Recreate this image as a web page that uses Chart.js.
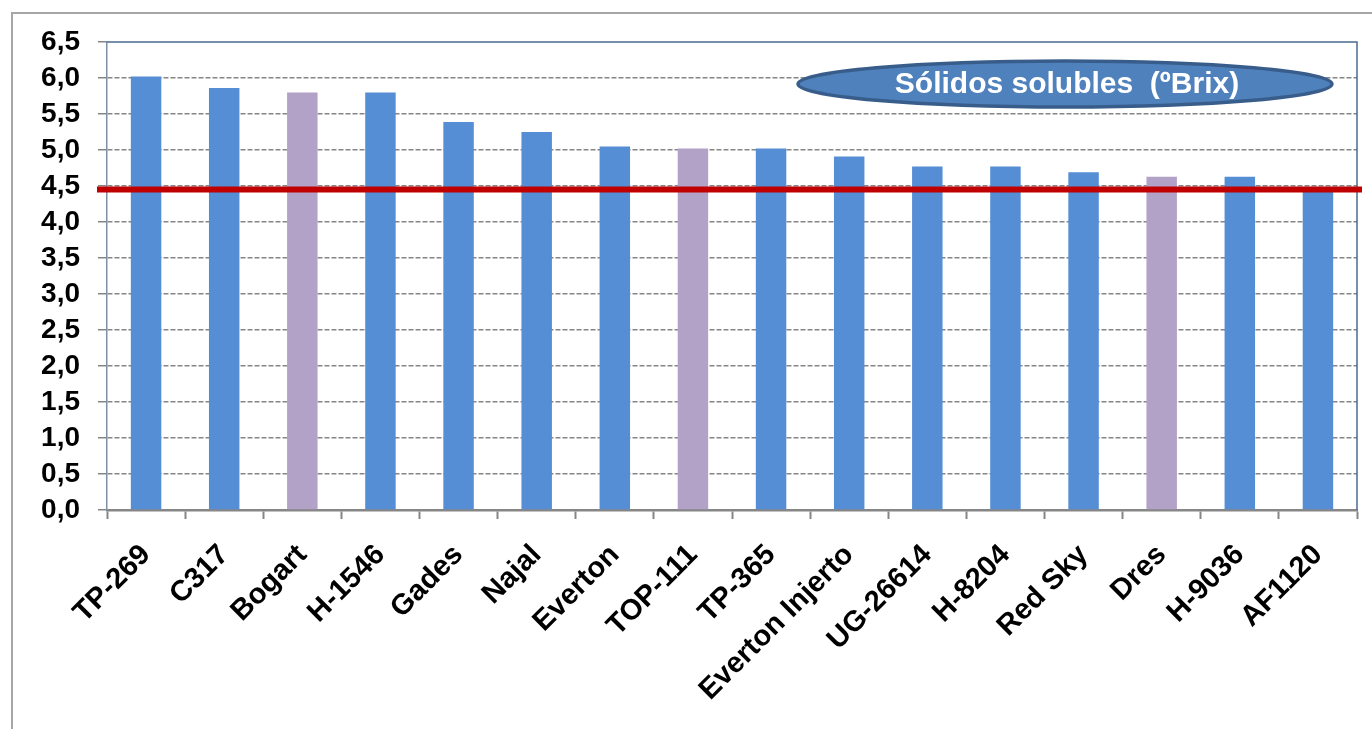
<!DOCTYPE html>
<html>
<head>
<meta charset="utf-8">
<script src="https://cdn.jsdelivr.net/npm/chart.js@4/dist/chart.umd.min.js"></script>
<style>
  html, body { margin: 0; padding: 0; background: #fff; }
  #wrap { position: relative; width: 1372px; height: 729px; overflow: hidden; }
  #frame { position: absolute; left: 11px; top: 12px; width: 1400px; height: 800px;
           border-left: 2px solid #a6a6a6; border-top: 2px solid #a6a6a6; }
  canvas { position: absolute; left: 0; top: 0; }
</style>
</head>
<body>
<div id="wrap">
  <div id="frame"></div>
  <canvas id="chart" width="1372" height="729"></canvas>
</div>
<script>
// data
const varieties = ["TP-269", "C317", "Bogart", "H-1546", "Gades", "Najal", "Everton", "TOP-111",
                   "TP-365", "Everton Injerto", "UG-26614", "H-8204", "Red Sky", "Dres", "H-9036", "AF1120"];
const brix = [6.02, 5.86, 5.80, 5.80, 5.39, 5.25, 5.05, 5.02,
              5.02, 4.91, 4.77, 4.77, 4.69, 4.63, 4.63, 4.45];
const highlighted = ["Bogart", "TOP-111", "Dres"];
const threshold = 4.45;
const legendText = "Sólidos solubles  (ºBrix)";

const blue = "#558ed5";
const purple = "#b3a2c7";
const gridGray = "#868686";
const fontFamily = "'Liberation Sans', Arial, sans-serif";

const barColors = varieties.map(v => highlighted.includes(v) ? purple : blue);

// plot frame (top + right edge), red reference line and oval label
const extras = {
    id: "extras",
    afterDatasetsDraw(chart) {
        const { ctx, chartArea, scales } = chart;
        ctx.save();
        // frame
        ctx.strokeStyle = "#4a6b8f";
        ctx.lineWidth = 1.5;
        ctx.beginPath();
        ctx.moveTo(chartArea.left, chartArea.top);
        ctx.lineTo(chartArea.right, chartArea.top);
        ctx.lineTo(chartArea.right, chartArea.bottom);
        ctx.stroke();

        // red line
        const y = scales.y.getPixelForValue(threshold);
        ctx.strokeStyle = "#c00000";
        ctx.lineWidth = 6;
        ctx.beginPath();
        ctx.moveTo(chartArea.left - 10, y);
        ctx.lineTo(chartArea.right + 5, y);
        ctx.stroke();

        // oval label
        const cx = chartArea.right - 292;
        const cy = chartArea.top + 42;
        ctx.beginPath();
        ctx.ellipse(cx, cy, 267, 23, 0, 0, Math.PI * 2);
        ctx.fillStyle = "#4f81bd";
        ctx.fill();
        ctx.lineWidth = 3.5;
        ctx.strokeStyle = "#385d8a";
        ctx.stroke();
        ctx.fillStyle = "#fff";
        ctx.font = "bold 30px " + fontFamily;
        ctx.textAlign = "center";
        ctx.textBaseline = "middle";
        ctx.fillText(legendText, cx + 2, cy + 1);
        ctx.restore();
    }
};

new Chart(document.getElementById("chart"), {
    type: "bar",
    data: {
        labels: varieties,
        datasets: [{
            label: legendText,
            data: brix,
            backgroundColor: barColors,
            borderWidth: 0,
            categoryPercentage: 1,
            barPercentage: 0.39
        }]
    },
    options: {
        responsive: false,
        animation: false,
        layout: { padding: { left: 0, top: 42, right: 15, bottom: 0 } },
        plugins: {
            legend: { display: false },
            tooltip: { enabled: false }
        },
        scales: {
            x: {
                afterFit: s => { s.height = 219; },
                grid: {
                    drawOnChartArea: false,
                    offset: true,
                    tickLength: 9,
                    tickColor: gridGray,
                    tickWidth: 2
                },
                border: { color: gridGray, width: 2.5 },
                ticks: {
                    color: "#000",
                    font: { family: fontFamily, size: 29, weight: "bold" },
                    maxRotation: 45,
                    minRotation: 45,
                    autoSkip: false,
                    padding: 19
                }
            },
            y: {
                min: 0,
                max: 6.5,
                afterFit: s => { s.width = 107; },
                grid: {
                    color: c => (c.tick && (c.tick.value === 6.5 || c.tick.value === 0)) ? "rgba(0,0,0,0)" : gridGray,
                    lineWidth: 1.5,
                    tickLength: 9,
                    tickColor: gridGray
                },
                border: { color: "#7f8fa6", width: 1.5, dash: [5, 2] },
                ticks: {
                    stepSize: 0.5,
                    autoSkip: false,
                    color: "#000",
                    padding: 18,
                    font: { family: fontFamily, size: 28, weight: "bold" },
                    callback: v => v.toFixed(1).replace(".", ",")
                }
            }
        }
    },
    plugins: [extras]
});
</script>
</body>
</html>
